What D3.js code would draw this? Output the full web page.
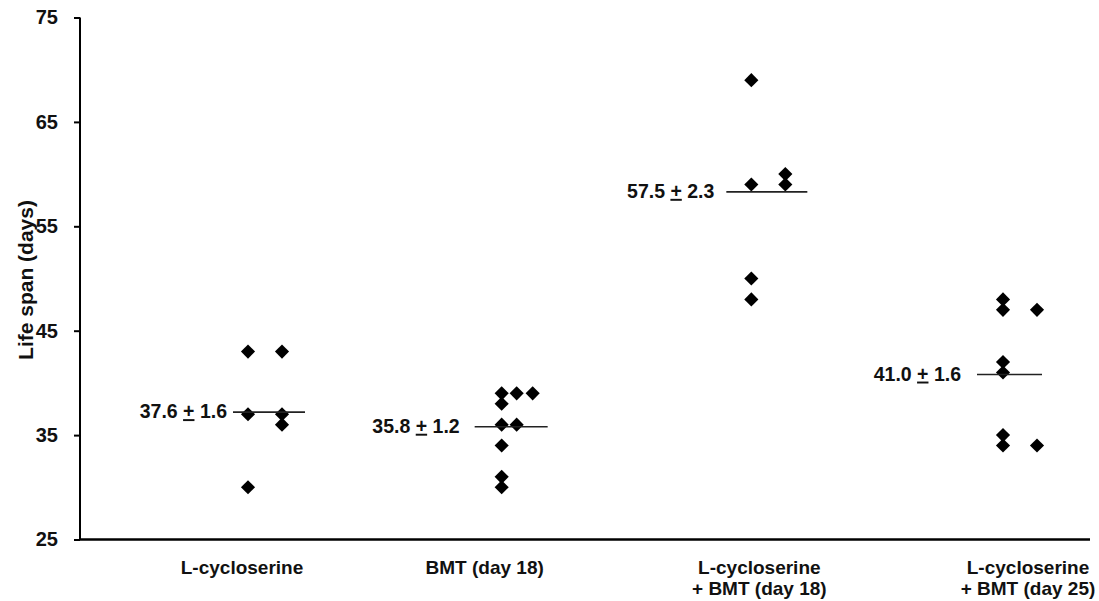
<!DOCTYPE html>
<html lang="en">
<head>
  <meta charset="UTF-8">
  <title>Life span</title>
  <script src="https://d3js.org/d3.v7.min.js"></script>
  <style>
    body { margin: 0; background: #fff; }
    svg { font-family: 'Liberation Sans', Arial, sans-serif; font-weight: bold; }
    .axis path, .axis line { stroke: #000; stroke-width: 2px; }
    .axis text { font-size: 20px; font-weight: bold; fill: #111; }
    .cat { font-size: 19px; fill: #111; }
    .stat { font-size: 19.5px; fill: #111; }
    .ylab { font-size: 21px; fill: #111; }
    .mean { stroke: #222; stroke-width: 1.6px; }
  </style>
</head>
<body>
<script>
  // groups, with the points split into the columns they are drawn in
  const categories = ['L-cycloserine', 'BMT (day 18)', 'L-cycloserine|+ BMT (day 18)', 'L-cycloserine|+ BMT (day 25)'];
  const lcycloserine = [[43, 37, 30], [43, 37, 36]];
  const bmt18 = [[39, 38, 36, 34, 31, 30], [39, 36], [39]];
  const lcycBmt18 = [[69, 59, 50, 48], [60, 59]];
  const lcycBmt25 = [[48, 47, 42, 41, 35, 34], [47, 34]];
  const meanText = ['37.6', '35.8', '57.5', '41.0'];
  const semText = ['1.6', '1.2', '2.3', '1.6'];
  const meanLine = [37.2, 35.8, 58.3, 40.8];
  const yTicks = [25, 35, 45, 55, 65, 75];

  const groups = [lcycloserine, bmt18, lcycBmt18, lcycBmt25];

  const width = 1099, height = 601;
  const svg = d3.select('body').append('svg')
    .attr('width', width)
    .attr('height', height);

  const y = d3.scaleLinear().domain([25, 75]).range([539.5, 17.5]);
  const x = d3.scalePoint().domain(categories).range([265, 1020]);

  // y axis
  svg.append('g')
    .attr('class', 'axis')
    .attr('transform', 'translate(80,0)')
    .call(d3.axisLeft(y).tickValues(yTicks).tickSize(6).tickSizeOuter(0).tickPadding(16))
    .call(g => g.select('.domain').attr('d', `M0,${y(75)}V${y(25)}`));

  // x axis line
  svg.append('line')
    .attr('x1', 79).attr('x2', 1090)
    .attr('y1', y(25)).attr('y2', y(25))
    .attr('stroke', '#000').attr('stroke-width', 2.5);

  svg.append('text')
    .attr('class', 'ylab')
    .attr('transform', `translate(33,280) rotate(-90)`)
    .attr('text-anchor', 'middle')
    .text('Life span (days)');

  // category labels
  const labelShift = [-23, -32, -9, 8];
  categories.forEach((c, i) => {
    const t = svg.append('text')
      .attr('class', 'cat')
      .attr('text-anchor', 'middle')
      .attr('x', x(c) + labelShift[i])
      .attr('y', 574);
    c.split('|').forEach((line, j) => {
      t.append('tspan').attr('x', x(c) + labelShift[i]).attr('dy', j ? 21 : 0).text(line);
    });
  });

  // points
  const colOffset = [[-17, 17], [-15, 0, 16], [-17, 17], [-17, 17]];
  const diamond = d3.symbol(d3.symbolSquare, 100);
  groups.forEach((cols, i) => {
    cols.forEach((vals, k) => {
      svg.selectAll(null)
        .data(vals)
        .enter()
        .append('path')
        .attr('d', diamond)
        .attr('fill', '#000')
        .attr('transform', d => `translate(${x(categories[i]) + colOffset[i][k]},${y(d)}) rotate(45)`);
    });
  });

  // mean lines and labels
  const lineEnd = [[-32, 40], [-42, 31], [-42, 39], [-43, 22]];
  const labelGap = [6, 15, 12, 16];
  categories.forEach((c, i) => {
    const cx = x(c);
    svg.append('line')
      .attr('class', 'mean')
      .attr('x1', cx + lineEnd[i][0]).attr('x2', cx + lineEnd[i][1])
      .attr('y1', y(meanLine[i])).attr('y2', y(meanLine[i]));
    const t = svg.append('text')
      .attr('class', 'stat')
      .attr('text-anchor', 'end')
      .attr('x', cx + lineEnd[i][0] - labelGap[i])
      .attr('y', y(meanLine[i]) + 6);
    t.append('tspan').text(meanText[i] + ' ');
    t.append('tspan').style('text-decoration', 'underline').text('+');
    t.append('tspan').text(' ' + semText[i]);
  });
</script>
</body>
</html>
